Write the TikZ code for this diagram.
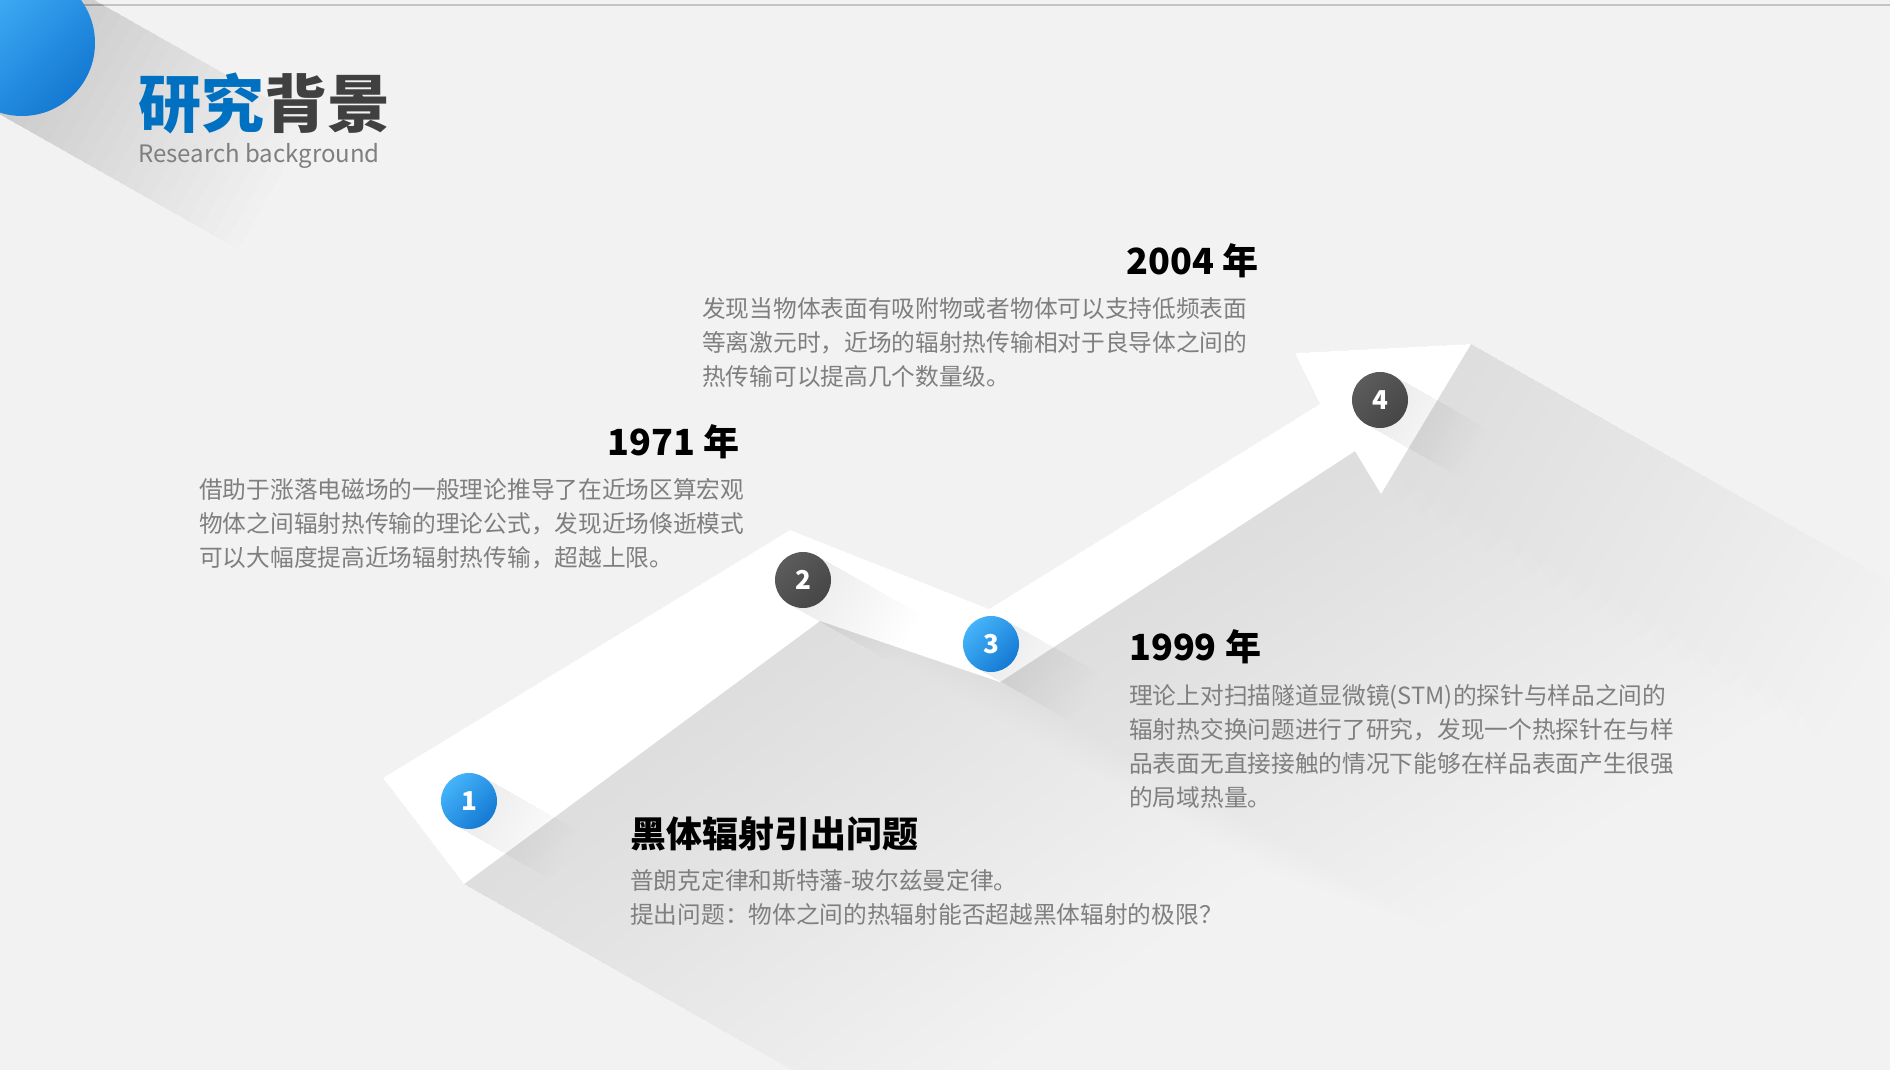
\documentclass[tikz,border=0pt]{standalone}
\usepackage{fontspec}
\setmainfont{Noto Sans CJK SC}
\usetikzlibrary{calc}
\definecolor{bg}{HTML}{F2F2F2}
\definecolor{topline}{HTML}{C4C4C4}
\definecolor{titleblue}{HTML}{0070C0}
\definecolor{titlegray}{HTML}{404040}
\definecolor{subgray}{HTML}{7F7F7F}
\definecolor{paragray}{HTML}{7F7F7F}
\definecolor{blueA}{HTML}{45B4FB}
\definecolor{blueB}{HTML}{1479D2}
\definecolor{darkA}{HTML}{5C5C5C}
\definecolor{darkB}{HTML}{464646}
\newcommand{\myLongShadow}[4]{%
  \foreach \k in {1,...,20}{%
    \pgfmathsetmacro{\myLL}{#3*\k/20}%
    \fill[black,opacity=#4]
      ($(#1)+(0.493*#2,-0.870*#2)$) --
      ($(#1)+(0.493*#2+0.870*\myLL,-0.870*#2+0.493*\myLL)$) --
      ($(#1)+(-0.493*#2+0.870*\myLL,0.870*#2+0.493*\myLL)$) --
      ($(#1)+(-0.493*#2,0.870*#2)$) -- cycle;
  }%
}
\tikzset{
  para/.style={anchor=base west, inner sep=0pt, text=paragray, font=\fontsize{23.7}{28}\selectfont},
  head/.style={inner sep=0pt, text=black, font=\fontsize{36}{40}\selectfont\bfseries},
  numblue/.style={circle, inner sep=0pt, minimum size=56pt, top color=blueA, bottom color=blueB, shading angle=45, text=white, font=\fontsize{26}{28}\selectfont\bfseries},
  numdark/.style={circle, inner sep=0pt, minimum size=56pt, top color=darkA, bottom color=darkB, shading angle=45, text=white, font=\fontsize{26}{28}\selectfont\bfseries},
}
\begin{document}
\begin{tikzpicture}[x=1pt,y=-1pt]
\useasboundingbox (0,0) rectangle (1890,1070);
\clip (0,0) rectangle (1890,1070);
\fill[bg] (0,0) rectangle (1890,1070);
\draw[topline, line width=1.5pt] (0,5) -- (1890,5);

% corner circle with long shadow
\coordinate (c0) at (22,43);
\myLongShadow{c0}{73}{290}{0.0065}
\shade[top color=blueA, bottom color=blueB, shading angle=45] (c0) circle[radius=73];

% title
\node[anchor=base west, inner sep=0pt, text=titleblue, font=\fontsize{63}{66}\selectfont\bfseries] (t1) at (138,128) {研究};
\node[anchor=base west, inner sep=0pt, text=titlegray, font=\fontsize{63}{66}\selectfont\bfseries] (t2) at (t1.base east) {背景};
\node[anchor=base west, inner sep=0pt, text=subgray, font=\fontsize{24}{30}\selectfont] (t3) at (138,163) {Research background};

% band geometry
\coordinate (P1) at (383,778);
\coordinate (P2) at (790,530);
\coordinate (P3) at (989,609);
\coordinate (P4) at (1320,404);
\coordinate (P5) at (1295,353);
\coordinate (P6) at (1471,344);
\coordinate (P7) at (1381,494);
\coordinate (P8) at (1355,451);
\coordinate (P9) at (1000,682);
\coordinate (P10) at (820,621);
\coordinate (P11) at (464,884);

% band long shadow
\foreach \k in {1,...,20}{
  \pgfmathsetmacro{\myDX}{0.870*25*\k}
  \pgfmathsetmacro{\myDY}{0.493*25*\k}
  \fill[black,opacity=0.0048] (P11) -- (P1) -- (P2) -- (P3) -- (P4) -- (P5) -- (P6)
    -- ($(P6)+(\myDX,\myDY)$) -- ($(P7)+(\myDX,\myDY)$) -- ($(P8)+(\myDX,\myDY)$)
    -- ($(P9)+(\myDX,\myDY)$) -- ($(P10)+(\myDX,\myDY)$) -- ($(P11)+(\myDX,\myDY)$) -- cycle;
}

% band
\fill[white] (P1) -- (P2) -- (P3) -- (P4) -- (P5) -- (P6) -- (P7) -- (P8) -- (P9) -- (P10) -- (P11) -- cycle;

% circle shadows
\coordinate (s1) at (469,801);
\coordinate (s2) at (803,580);
\coordinate (s3) at (991,644);
\coordinate (s4) at (1380,400);
\myLongShadow{s1}{28}{110}{0.0042}
\myLongShadow{s2}{28}{120}{0.0042}
\myLongShadow{s3}{28}{110}{0.0042}
\myLongShadow{s4}{28}{110}{0.0042}

% numbered circles
\node[numblue] (n1) at (s1) {1};
\node[numdark] (n2) at (s2) {2};
\node[numblue] (n3) at (s3) {3};
\node[numdark] (n4) at (s4) {4};

% 2004
\node[head, anchor=base east] (h2004) at (1259,274) {2004 年};
\node[para] (p2004a) at (702,317.5) {发现当物体表面有吸附物或者物体可以支持低频表面};
\node[para] (p2004b) at (702,351) {等离激元时，近场的辐射热传输相对于良导体之间的};
\node[para] (p2004c) at (702,385) {热传输可以提高几个数量级。};

% 1971
\node[head, anchor=base east] (h1971) at (740,455) {1971 年};
\node[para] (p1971a) at (199,498) {借助于涨落电磁场的一般理论推导了在近场区算宏观};
\node[para] (p1971b) at (199,532) {物体之间辐射热传输的理论公式，发现近场倏逝模式};
\node[para] (p1971c) at (199,566) {可以大幅度提高近场辐射热传输，超越上限。};

% 1999
\node[head, anchor=base west] (h1999) at (1129,660) {1999 年};
\node[para] (p1999a) at (1129,704) {理论上对扫描隧道显微镜(STM)的探针与样品之间的};
\node[para] (p1999b) at (1129,738) {辐射热交换问题进行了研究，发现一个热探针在与样};
\node[para] (p1999c) at (1129,772) {品表面无直接接触的情况下能够在样品表面产生很强};
\node[para] (p1999d) at (1129,806) {的局域热量。};

% black body
\node[head, anchor=base west] (h0) at (630,847) {黑体辐射引出问题};
\node[para] (p0a) at (630,889) {普朗克定律和斯特藩-玻尔兹曼定律。};
\node[para] (p0b) at (630,923) {提出问题：物体之间的热辐射能否超越黑体辐射的极限？};
\end{tikzpicture}
\end{document}
